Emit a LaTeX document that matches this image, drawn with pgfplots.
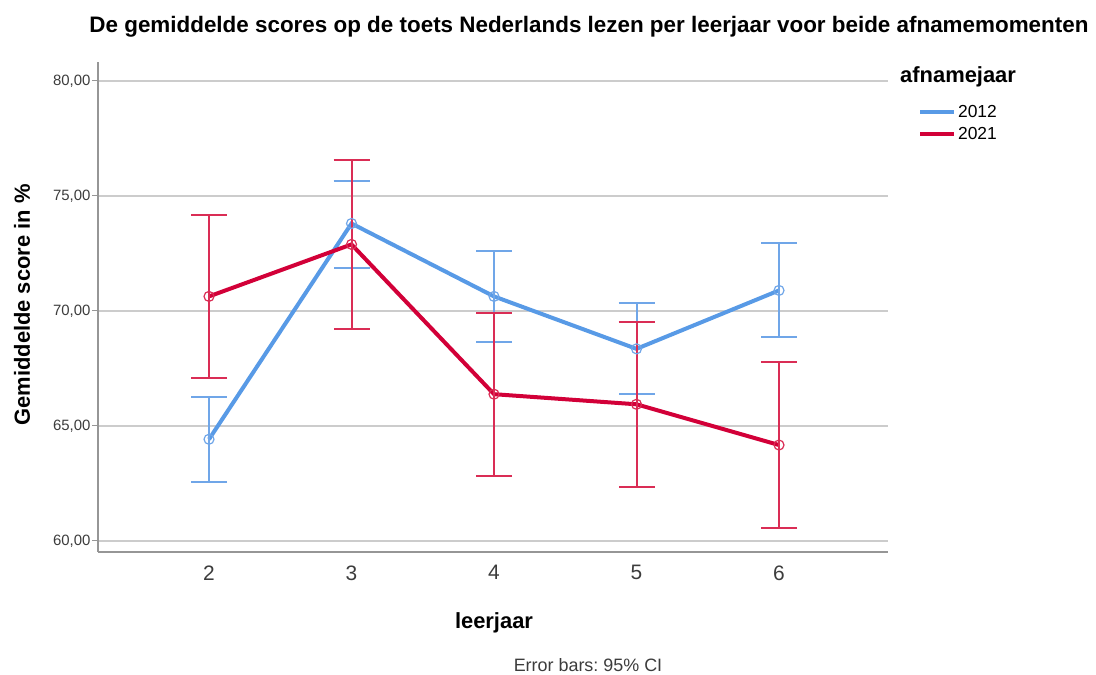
\documentclass[border=0pt]{standalone}
\usepackage{fontspec}
\setmainfont{Liberation Sans}
\usepackage{pgfplots}
\usepackage{pgfplotstable}
\pgfplotsset{compat=1.18}
\definecolor{sblue}{RGB}{88,154,230}
\definecolor{sbluee}{RGB}{112,166,232}
\definecolor{sred}{RGB}{210,0,56}
\definecolor{srede}{RGB}{218,45,85}
\definecolor{gridc}{RGB}{204,204,204}
\definecolor{axc}{RGB}{150,150,150}
\definecolor{tickc}{RGB}{60,60,60}

\pgfplotstableread{
x y ep em
2 64.42 1.83 1.86
3 73.80 1.86 1.93
4 70.63 1.99 2.00
5 68.35 1.98 1.97
6 70.89 2.04 2.04
}\tblue
\pgfplotstableread{
x y ep em
2 70.63 3.53 3.56
3 72.89 3.65 3.69
4 66.38 3.54 3.56
5 65.94 3.59 3.61
6 64.17 3.60 3.61
}\tred

\begin{document}
\frenchspacing
\begin{tikzpicture}[x=1bp,y=1bp]
\path (0,0) rectangle (1096,674);
\begin{axis}[
  at={(98bp,122bp)}, anchor=south west,
  scale only axis, width=790bp, height=490bp,
  xmin=1.221, xmax=6.765, ymin=59.52, ymax=80.82,
  axis x line*=bottom, axis y line*=left,
  axis line style={draw=axc, line width=1.3bp, -},
  xtick={2,3,4,5,6}, xtick style={draw=none},
  ytick={60,65,70,75,80},
  ytick style={draw=axc, line width=1bp},
  tick align=outside, major tick length=6bp,
  ymajorgrids, grid style={draw=gridc, line width=1.7bp},
  /pgf/number format/assume math mode=true,
  xticklabel style={font=\fontsize{21}{24}\selectfont, text=tickc, yshift=-4bp},
  yticklabel style={font=\fontsize{15}{18}\selectfont, text=tickc, xshift=2bp},
  y tick label style={/pgf/number format/fixed, /pgf/number format/fixed zerofill,
    /pgf/number format/precision=2, /pgf/number format/use comma,
    /pgf/number format/assume math mode=true},
  scaled y ticks=false,
  legend style={at={(1.034,0.92)}, anchor=north west, draw=none, fill=none,
    font=\fontsize{17.5}{21}\selectfont, row sep=4bp,
    legend cell align=left},
]
\addplot[sblue, line width=4bp, mark=o, mark size=5bp,
  mark options={line width=1.2bp, draw=sbluee, fill=none},
  legend image code/.code={\draw[sblue, line width=4bp] (0bp,0bp) -- (34bp,0bp);},
  error bars/.cd, y dir=both, y explicit,
  error bar style={draw=sbluee, line width=2bp},
  error mark options={rotate=90, mark size=18bp, line width=2bp, draw=sbluee}]
  table[x=x, y=y, y error plus=ep, y error minus=em] {\tblue};
\addlegendentry{2012}
\addplot[sred, line width=4bp, mark=o, mark size=5bp,
  mark options={line width=1.2bp, draw=srede, fill=none},
  legend image code/.code={\draw[sred, line width=4bp] (0bp,0bp) -- (34bp,0bp);},
  error bars/.cd, y dir=both, y explicit,
  error bar style={draw=srede, line width=2bp},
  error mark options={rotate=90, mark size=18bp, line width=2bp, draw=srede}]
  table[x=x, y=y, y error plus=ep, y error minus=em] {\tred};
\addlegendentry{2021}
\end{axis}
\node[font=\fontsize{22.5}{26}\selectfont\bfseries] at (589,647) {De gemiddelde scores op de toets Nederlands lezen per leerjaar voor beide afnamemomenten};
\node[font=\fontsize{22}{26}\selectfont\bfseries, rotate=90] at (22,369) {Gemiddelde score in \%};
\node[font=\fontsize{22}{26}\selectfont\bfseries] at (494,51) {leerjaar};
\node[font=\fontsize{18}{21}\selectfont, text=tickc] at (588,9) {Error bars: 95\% CI};
\node[font=\fontsize{22}{26}\selectfont\bfseries, anchor=west, inner sep=0pt] at (900,597) {afnamejaar};
\end{tikzpicture}
\end{document}
